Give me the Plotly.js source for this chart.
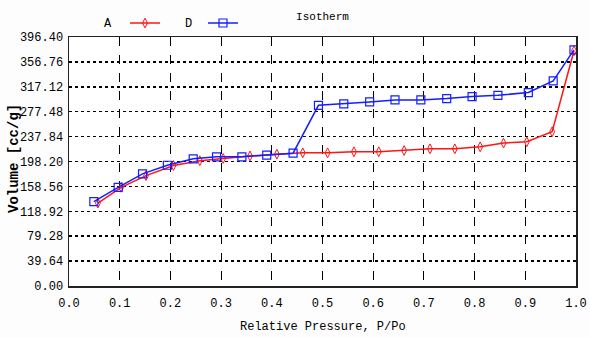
<!DOCTYPE html>
<html>
<head>
<meta charset="utf-8">
<script src="https://cdn.plot.ly/plotly-3.0.1.min.js"></script>
<style>html,body{margin:0;padding:0;background:#fdfdfd;}#chart{width:590px;height:337px;}</style>
</head>
<body>
<div id="chart"></div>
<script>
// Adsorption branch (A)
var adsP = [0.057, 0.103, 0.152, 0.206, 0.258, 0.304, 0.357, 0.410, 0.461, 0.510, 0.562, 0.611, 0.661, 0.712, 0.761, 0.811, 0.857, 0.903, 0.953, 0.996];
var adsV = [132.0, 157.0, 175.8, 191.8, 199.5, 203.0, 207.0, 209.8, 212.0, 212.0, 213.7, 213.7, 215.7, 218.4, 218.4, 221.6, 227.5, 229.6, 245.6, 374.4];
// Desorption branch (D)
var desP = [0.049, 0.097, 0.145, 0.194, 0.245, 0.291, 0.341, 0.390, 0.442, 0.492, 0.542, 0.593, 0.643, 0.694, 0.745, 0.795, 0.846, 0.906, 0.955, 0.996];
var desV = [134.2, 157.1, 178.5, 192.2, 202.5, 205.7, 205.7, 208.2, 211.4, 287.7, 289.8, 293.0, 296.2, 296.2, 298.3, 301.6, 303.6, 308.0, 326.5, 376.0];
// Axis ticks
var yTicks = [0, 39.64, 79.28, 118.92, 158.56, 198.20, 237.84, 277.48, 317.12, 356.76, 396.40];
var xTicks = [0.0, 0.1, 0.2, 0.3, 0.4, 0.5, 0.6, 0.7, 0.8, 0.9, 1.0];

var mono = 'Liberation Mono, DejaVu Sans Mono, monospace';

var traces = [
  {x: adsP, y: adsV, name: ' ', type: 'scatter', mode: 'lines+markers',
   line: {color: 'rgb(255,20,20)', width: 1.5},
   marker: {symbol: 'diamond-tall-open', size: 7, color: 'rgb(255,20,20)', line: {width: 1}},
   legend: 'legend'},
  {x: desP, y: desV, name: ' ', type: 'scatter', mode: 'lines+markers',
   line: {color: 'rgb(20,30,255)', width: 1.5},
   marker: {symbol: 'square-open', size: 8, color: 'rgb(20,30,255)', line: {width: 1.2}},
   legend: 'legend2'}
];

var layout = {
  width: 590, height: 337,
  paper_bgcolor: '#fdfdfd', plot_bgcolor: '#ffffff',
  margin: {l: 69, r: 14, t: 37, b: 51, autoexpand: false},
  font: {family: mono, size: 11, color: '#000'},
  title: {text: 'Isotherm', x: 0.5, xref: 'paper', xanchor: 'center', y: 0.953, yref: 'container', yanchor: 'middle',
          font: {family: mono, size: 11, color: '#000'}},
  xaxis: {range: [0, 1], tickvals: xTicks, ticktext: xTicks.map(function(v){return v.toFixed(1);}),
          showgrid: true, gridcolor: '#000', griddash: 'dash', gridwidth: 1,
          showline: true, linecolor: '#222', linewidth: 1.5, mirror: true, zeroline: false,
          ticks: '', tickfont: {family: mono, size: 12}, automargin: false, ticklabelstandoff: 5},
  yaxis: {range: [0, 396.4], tickvals: yTicks, ticktext: yTicks.map(function(v){return v.toFixed(2);}),
          showgrid: true, gridcolor: '#000', griddash: 'dot', gridwidth: 1.5,
          showline: true, linecolor: '#222', linewidth: 1.5, mirror: true, zeroline: false,
          ticks: '', tickfont: {family: mono, size: 12}, automargin: false, ticklabelstandoff: 2},
  showlegend: true,
  legend: {xref: 'container', yref: 'container', x: 125/590, y: 1 - 23/337, xanchor: 'left', yanchor: 'middle',
           bgcolor: 'rgba(0,0,0,0)', borderwidth: 0, font: {size: 11}, itemwidth: 30},
  legend2: {xref: 'container', yref: 'container', x: 203/590, y: 1 - 23/337, xanchor: 'left', yanchor: 'middle',
           bgcolor: 'rgba(0,0,0,0)', borderwidth: 0, font: {size: 11}, itemwidth: 30},
  annotations: [
    {text: 'A', xref: 'paper', yref: 'paper', x: (108 - 69) / 507, y: (286 - 24) / 249, showarrow: false,
     xanchor: 'center', yanchor: 'middle', font: {family: mono, size: 12, color: '#000'}},
    {text: 'D', xref: 'paper', yref: 'paper', x: (188 - 69) / 507, y: (286 - 24) / 249, showarrow: false,
     xanchor: 'center', yanchor: 'middle', font: {family: mono, size: 12, color: '#000'}},
    {text: 'Relative Pressure, P/Po', xref: 'paper', yref: 'paper', x: 0.5, y: (286 - 327) / 249, showarrow: false,
     xanchor: 'center', yanchor: 'middle', font: {family: mono, size: 12, color: '#000'}},
    {text: '<b>Volume [cc/g]</b>', xref: 'paper', yref: 'paper', x: (14 - 69) / 507, y: (286 - 159) / 249, showarrow: false,
     textangle: -90, xanchor: 'center', yanchor: 'middle', font: {family: mono, size: 14, color: '#000'}}
  ]
};

Plotly.newPlot('chart', traces, layout, {displayModeBar: false, staticPlot: true});
</script>
</body>
</html>
